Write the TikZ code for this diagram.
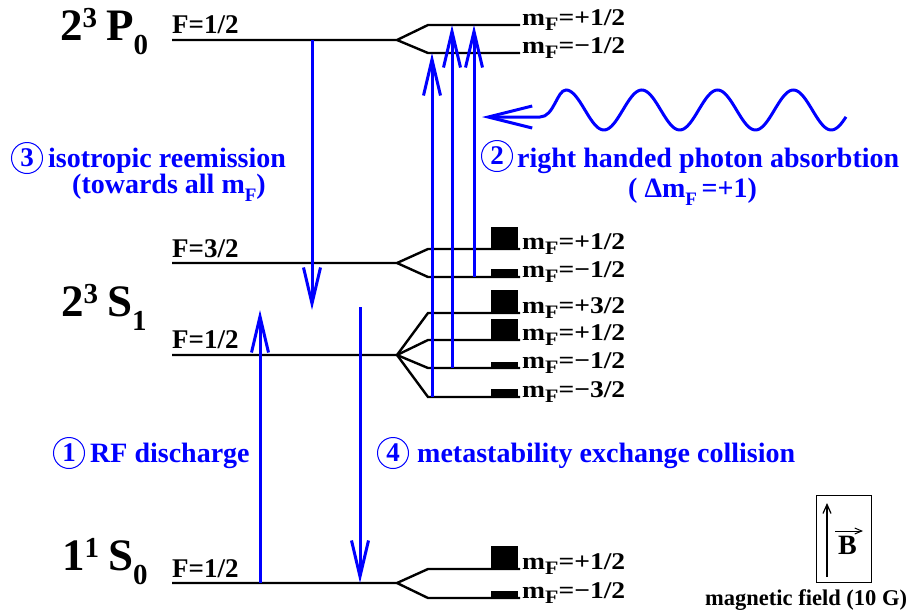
\documentclass[tikz,border=0pt]{standalone}
\usepackage{fontspec}
\setmainfont{Liberation Serif}
\usetikzlibrary{arrows.meta}
\definecolor{pblue}{RGB}{0,0,255}
\newcommand\mFlab[1]{\scalebox{1.15}[1]{\fontsize{24}{24}\selectfont m\raisebox{-5pt}{\fontsize{19}{19}\selectfont F}=#1}}
\newcommand\termlab[4]{{\fontsize{45}{45}\selectfont #1}\raisebox{13pt}{\fontsize{29}{29}\selectfont #2}\hspace{9pt}{\fontsize{45}{45}\selectfont #3}\raisebox{-14pt}{\fontsize{29}{29}\selectfont #4}}
\begin{document}
\begin{tikzpicture}[x=1pt,y=-1pt,
  lvl/.style={line width=2.4pt, black, line join=miter},
  trans/.style={line width=3pt, pblue, -{Straight Barb[length=36pt,width=17pt]}},
  bar/.style={fill=black},
  lab/.style={anchor=base west, inner sep=0pt, font=\bfseries},
  flab/.style={anchor=base west, inner sep=0pt, font=\bfseries\fontsize{27}{27}\selectfont},
  btxt/.style={anchor=base west, inner sep=0pt, text=pblue, font=\bfseries\fontsize{28}{28}\selectfont},
  circ/.style={circle, draw=pblue, line width=1pt, minimum size=31pt, inner sep=0pt, text=pblue, font=\bfseries\fontsize{27}{27}\selectfont}]
\useasboundingbox (0,0) rectangle (908,614);

% ---------- term labels ----------
\node[lab] (tP0) at (60,40) {\termlab{2}{3}{P}{0}};
\node[lab] (tS1) at (61,316) {\termlab{2}{3}{S}{1}};
\node[lab] (tS0) at (62,570) {\termlab{1}{1}{S}{0}};

\node[flab] (fP0) at (172,33) {F=1/2};
\node[flab] (fS1a) at (172,257) {F=3/2};
\node[flab] (fS1b) at (172,348) {F=1/2};
\node[flab] (fS0) at (172,577) {F=1/2};

% ---------- levels ----------
\coordinate (p0) at (397,40);
\coordinate (p0p) at (428,25); \coordinate (p0m) at (428,53);
\draw[lvl] (172,40) -- (p0) -- (p0p) -- (520,25);
\draw[lvl] (p0) -- (p0m) -- (520,53);

\coordinate (s3) at (397,263);
\coordinate (s3p) at (428,249); \coordinate (s3m) at (428,277);
\draw[lvl] (172,263) -- (s3) -- (s3p) -- (520,249);
\draw[lvl] (s3) -- (s3m) -- (520,277);

\coordinate (s1) at (397,355);
\coordinate (s1a) at (428,313); \coordinate (s1b) at (428,340);
\coordinate (s1c) at (428,368); \coordinate (s1d) at (428,397);
\draw[lvl] (172,355) -- (s1) -- (s1a) -- (520,313);
\draw[lvl] (s1) -- (s1b) -- (520,340);
\draw[lvl] (s1) -- (s1c) -- (520,368);
\draw[lvl] (s1) -- (s1d) -- (520,397);

\coordinate (g0) at (397,583);
\coordinate (g0p) at (428,569); \coordinate (g0m) at (428,598);
\draw[lvl] (172,583) -- (g0) -- (g0p) -- (520,569);
\draw[lvl] (g0) -- (g0m) -- (520,598);

% ---------- populations ----------
\fill[bar] (491,227) rectangle (518,249);
\fill[bar] (491,269) rectangle (518,277);
\fill[bar] (491,290) rectangle (518,313);
\fill[bar] (491,319) rectangle (518,340);
\fill[bar] (491,362) rectangle (518,368);
\fill[bar] (491,389) rectangle (518,397);
\fill[bar] (491,546) rectangle (518,569);
\fill[bar] (491,591) rectangle (518,598);

% ---------- mF labels ----------
\node[lab] (m1) at (522,25) {\mFlab{+1/2}};
\node[lab] (m2) at (522,53) {\mFlab{−1/2}};
\node[lab] (m3) at (522,249) {\mFlab{+1/2}};
\node[lab] (m4) at (522,277) {\mFlab{−1/2}};
\node[lab] (m5) at (522,313) {\mFlab{+3/2}};
\node[lab] (m6) at (522,340) {\mFlab{+1/2}};
\node[lab] (m7) at (522,368) {\mFlab{−1/2}};
\node[lab] (m8) at (522,397) {\mFlab{−3/2}};
\node[lab] (m9) at (522,569) {\mFlab{+1/2}};
\node[lab] (m10) at (522,598) {\mFlab{−1/2}};

% ---------- transitions ----------
\coordinate (r3a) at (312,40);  \coordinate (r3b) at (312,310);
\coordinate (r1a) at (260,583); \coordinate (r1b) at (260,310);
\coordinate (r4a) at (360,307); \coordinate (r4b) at (360,583);
\coordinate (a1a) at (432,397); \coordinate (a1b) at (432,53);
\coordinate (a2a) at (452,368); \coordinate (a2b) at (452,25);
\coordinate (a3a) at (474,277); \coordinate (a3b) at (474,25);
\draw[trans] (r3a) -- (r3b);
\draw[trans] (r1a) -- (r1b);
\draw[trans] (r4a) -- (r4b);
\draw[trans] (a1a) -- (a1b);
\draw[trans] (a2a) -- (a2b);
\draw[trans] (a3a) -- (a3b);

% ---------- photon ----------
\coordinate (phtip) at (482,117);
\draw[line width=3pt, pblue, -{Straight Barb[length=44pt,width=22pt]}]
  plot[domain=846:566, samples=160] (\x,{110-20*cos(4.75*(\x-566))})
  .. controls (557,90) and (554,117) .. (540,117) -- (phtip);

% ---------- blue labels ----------
\node[circ] (c3) at (27,158) {3};
\node[btxt] (t3a) at (48,167) {isotropic reemission};
\node[btxt] (t3b) at (72,193) {(towards all m\raisebox{-8pt}{\fontsize{19}{19}\selectfont F})};

\node[circ] (c2) at (497,156) {2};
\node[btxt] (t2a) at (517,167) {right handed photon absorbtion};
\node[btxt] (t2b) at (628,197) {( Δm\raisebox{-8pt}{\fontsize{19}{19}\selectfont F}\,=+1)};

\node[circ] (c1) at (69,453) {1};
\node[btxt] (t1) at (90,462) {RF discharge};
\node[circ] (c4) at (393,453) {4};
\node[btxt] (t4) at (417,462) {metastability exchange collision};

% ---------- magnetic field ----------
\node[draw, line width=1pt, minimum width=55pt, minimum height=87pt, inner sep=0pt] (bbox) at (843.5,538.5) {};
\coordinate (ba) at (827,577); \coordinate (bb) at (827,503);
\draw[line width=1.2pt, -{Straight Barb[length=9pt,width=8pt]}] (ba) -- (bb);
\node[lab, font=\bfseries\fontsize{28}{28}\selectfont] (B) at (838,554) {B};
\coordinate (va) at (835,531); \coordinate (vb) at (863,531);
\draw[line width=1pt, -{Straight Barb[length=7pt,width=6pt]}] (va) -- (vb);
\node[lab, font=\bfseries\fontsize{22.5}{22.5}\selectfont] (mf) at (705,605) {magnetic field (10 G)};
\end{tikzpicture}
\end{document}
